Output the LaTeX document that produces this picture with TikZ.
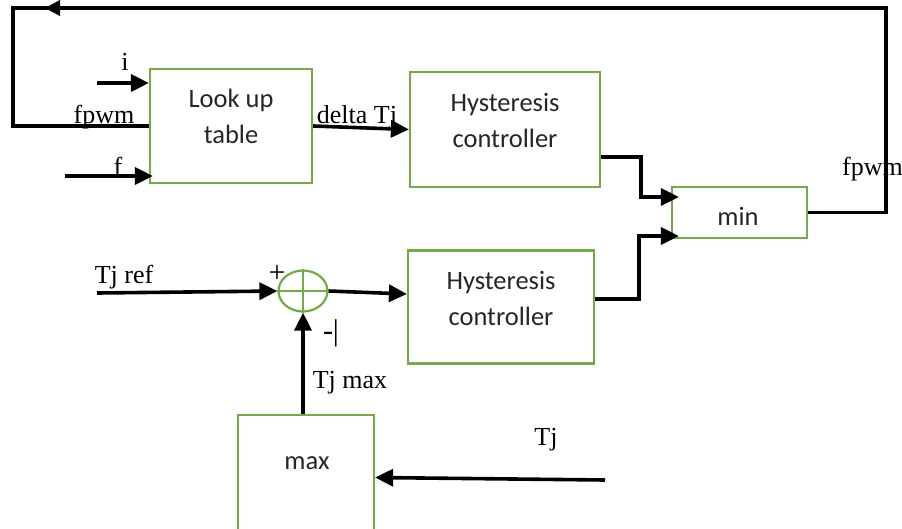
\documentclass[tikz,border=0pt]{standalone}
\usepackage{fontspec}
\setmainfont{Liberation Serif}
\newfontfamily\boxfont{Carlito}
\usetikzlibrary{arrows.meta,shapes.geometric}
\definecolor{blkgreen}{RGB}{112,173,71}
\tikzset{
  x=1pt, y=1pt,
  blk/.style={draw=blkgreen, line width=2.2pt, fill=white, inner sep=0pt},
  boxtxt/.style={font=\boxfont\fontsize{26.5}{36}\selectfont, text=black!85, align=center, inner sep=0pt},
  lbl/.style={font=\fontsize{26}{30}\selectfont, inner sep=0pt, anchor=base},
  sgn/.style={font=\fontsize{30}{30}\selectfont, inner sep=0pt},
  wire/.style={line width=3.6pt, line join=miter},
  arr/.style={wire, -{Triangle[length=18pt,width=17pt]}},
}
\begin{document}
\begin{tikzpicture}
\useasboundingbox (0,0) rectangle (902,-528);

% blocks
\node[blk, minimum width=162, minimum height=114] (lut) at (231,-126) {};
\node[boxtxt] (luttxt) at (231,-116) {Look up\\table};
\node[blk, minimum width=190, minimum height=115] (hyst1) at (505,-129.5) {};
\node[boxtxt] (h1txt) at (505,-120) {Hysteresis\\controller};
\node[blk, minimum width=186, minimum height=113] (hyst2) at (501,-307) {};
\node[boxtxt] (h2txt) at (501,-298) {Hysteresis\\controller};
\node[blk, minimum width=135, minimum height=51] (minb) at (739.5,-212.5) {};
\node[boxtxt] (mintxt) at (738,-216) {min};
\node[blk, minimum width=136, minimum height=125] (maxb) at (306,-477.5) {};
\node[boxtxt] (maxtxt) at (307,-463) {max};

% summing junction
\node[draw=blkgreen, line width=2.2pt, ellipse, minimum width=49, minimum height=41, inner sep=0pt] (sum) at (303,-291) {};
\draw[blkgreen, line width=2.2pt] (sum.north) -- (sum.south) (sum.west) -- (sum.east);

% free ends
\coordinate (iin) at (97,-83);
\coordinate (fin) at (65,-176);
\coordinate (tjref) at (97,-293);
\coordinate (tjin) at (605,-480);
\coordinate (fbR) at (886,-212.5);
\coordinate (fbTR) at (886,-8);
\coordinate (fbTL) at (13,-8);
\coordinate (fbBL) at (13,-126);
\coordinate (fbtip) at (45,-8);
\coordinate (fbtail) at (80,-8);

% inputs of the look-up table
\draw[arr] (iin) -- (iin -| lut.west);
\draw[arr] (fin) -- ([xshift=4]fin -| lut.west);
\draw[arr] (lut.east) -- (hyst1.west);

% feedback of fpwm
\draw[wire] (minb.east) -- (fbR) -- (fbTR) -- (fbTL) -- (fbBL) -- (lut.west);
\draw[wire, -{Triangle[length=15pt,width=15pt]}] (fbtail) -- (fbtip);

% controller outputs into min
\draw[arr] ([yshift=-27.5]hyst1.east) -- ++(40,0) |- ([xshift=8,yshift=15.5]minb.west);
\draw[arr] ([yshift=8]hyst2.east) -- ++(44,0) |- ([xshift=8,yshift=-23.5]minb.west);

% temperature loop
\draw[arr] (tjref) -- (sum.west);
\draw[arr] (sum.east) -- ([yshift=13]hyst2.west);
\draw[arr] (sum.south |- maxb.north) -- (sum.south);
\draw[arr] (tjin) -- (maxb.east);

% labels
\node[lbl] (li) at (125,-70) {i};
\node[lbl] (lfpwm) at (104,-123) {fpwm};
\node[lbl] (lf) at (118,-175) {f};
\node[lbl] (ldelta) at (357,-123) {delta Tj};
\node[lbl] (ltjref) at (124,-283) {Tj ref};
\node[sgn] (lplus) at (277,-274) {+};
\node[sgn] (lminus) at (331,-333) {-|};
\node[lbl] (ltjmax) at (350,-388) {Tj max};
\node[lbl] (ltj) at (546,-445) {Tj};
\node[lbl, anchor=base west] (lfpwm2) at (842,-175) {fpwm};
\end{tikzpicture}
\end{document}
